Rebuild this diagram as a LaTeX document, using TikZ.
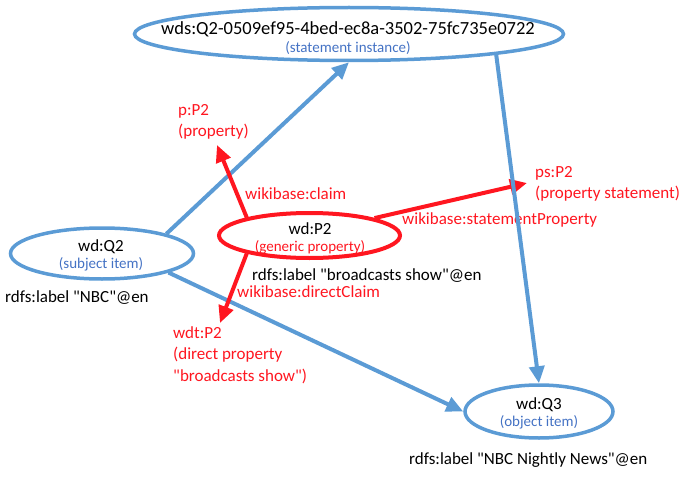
\documentclass[tikz,border=0pt]{standalone}
\usepackage{fontspec}
\setmainfont{Carlito}
\usetikzlibrary{arrows.meta,shapes.geometric}

\definecolor{itemblue}{RGB}{91,155,213}
\definecolor{itemtext}{RGB}{68,114,196}
\definecolor{propred}{RGB}{255,22,32}

\begin{document}
\begin{tikzpicture}[x=1pt, y=-1pt,
        itembox/.style={ellipse, draw=itemblue, line width=3.5pt, inner sep=0pt},
        propbox/.style={ellipse, draw=propred, line width=4pt, inner sep=0pt},
        boxtext/.style={align=center, inner sep=0pt, font=\fontsize{17}{17}\selectfont},
        bluearrow/.style={itemblue, line width=4pt, -{Triangle[length=17pt, width=15pt]}},
        redarrow/.style={propred, line width=4pt, -{Triangle[length=17pt, width=15pt]}},
        redtext/.style={text=propred, anchor=west, align=left, inner sep=0pt, font=\fontsize{17}{21.5}\selectfont},
        plaintext/.style={anchor=west, inner sep=0pt, font=\fontsize{17}{17}\selectfont}]
        \useasboundingbox (0, 0) rectangle (683, 487);

        % ellipses
        \node[itembox, minimum width=429pt, minimum height=53pt] (stmt) at (349, 34) {};
        \node[boxtext, font=\fontsize{18.5}{18}\selectfont] (stmt text) at (348, 38) {wds:Q2-0509ef95-4bed-ec8a-3502-75fc735e0722\\{\fontsize{15}{17}\selectfont\color{itemtext}(statement instance)}};
        \node[itembox, minimum width=183pt, minimum height=51pt] (subj) at (102, 253.5) {};
        \node[boxtext] (subj text) at (101, 255) {wd:Q2\\{\fontsize{15}{17}\selectfont\color{itemtext}(subject item)}};
        \node[propbox, minimum width=181pt, minimum height=45pt] (prop) at (309.5, 235.5) {};
        \node[boxtext] (prop text) at (310, 238.5) {wd:P2\\{\fontsize{15}{17}\selectfont\color{propred}(generic property)}};
        \node[itembox, minimum width=148pt, minimum height=53pt] (obj) at (539, 411.5) {};
        \node[boxtext] (obj text) at (539, 413) {wd:Q3\\{\fontsize{15}{18}\selectfont\color{itemtext}(object item)}};

        \draw[bluearrow] (subj.17) -- (stmt.south);
        \draw[bluearrow] (subj.-16) -- (obj.west);

        \coordinate (claim tip) at (217, 145);
        \coordinate (stmtprop tip) at (527, 183);
        \coordinate (direct tip) at (220, 323);
        \draw[redarrow] (prop.164) -- (claim tip);
        \draw[redarrow] (prop.15) -- (stmtprop tip);
        \draw[redarrow] (prop.196) -- (direct tip);

        % labels
        \node[redtext] (p label) at (178, 122) {p:P2\\(property)};
        \node[redtext] (claim label) at (245, 194) {wikibase:claim};
        \node[redtext] (ps label) at (535, 184) {ps:P2\\(property statement)};
        \node[redtext] (stmtprop label) at (402, 220) {wikibase:statementProperty};
        \node[plaintext] (prop rdfs) at (252, 276) {rdfs:label \textquotedbl broadcasts show\textquotedbl @en};
        \node[redtext] (direct label) at (237, 292) {wikibase:directClaim};
        \node[redtext] (wdt label) at (173, 355) {wdt:P2\\(direct property\\\textquotedbl broadcasts show\textquotedbl)};
        \node[plaintext] (subj rdfs) at (5, 298) {rdfs:label \textquotedbl NBC\textquotedbl @en};
        \node[plaintext] (obj rdfs) at (409, 460) {rdfs:label \textquotedbl NBC Nightly News\textquotedbl @en};

        \draw[bluearrow] (stmt.-8) -- (obj.north);
    \end{tikzpicture}
\end{document}
